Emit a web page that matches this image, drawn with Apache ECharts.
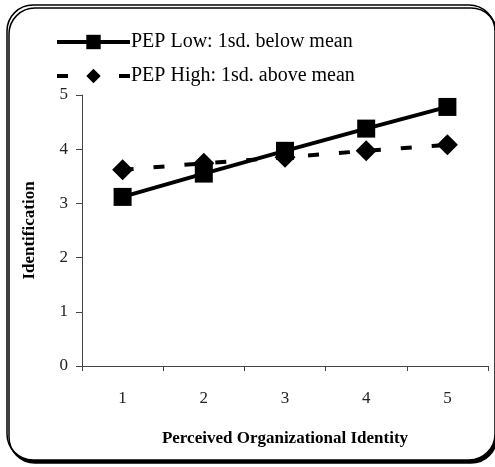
<!DOCTYPE html>
<html>
<head>
<meta charset="utf-8">
<script src="https://cdn.jsdelivr.net/npm/echarts@6/dist/echarts.min.js"></script>
<style>
  html, body { margin: 0; padding: 0; background: #fff; }
  #chart { width: 495px; height: 467px; }
</style>
</head>
<body>
<div id="chart"></div>
<script>
// categories on the x axis
const categories = ["1", "2", "3", "4", "5"];
// series values
const pepLow = [3.12, 3.55, 3.97, 4.38, 4.78];
const pepHigh = [3.62, 3.74, 3.85, 3.97, 4.08];
const seriesNames = ["PEP Low: 1sd. below mean", "PEP High: 1sd. above mean"];

const serif = "Liberation Serif";

const chart = echarts.init(document.getElementById("chart"));

const option = {
  animation: false,
  graphic: [
    {
      type: "rect",
      z: -10,
      shape: { x: 7, y: 5, width: 488, height: 455, r: 26 },
      style: {
        fill: "#fff",
        stroke: "#000",
        lineWidth: 1.5,
        shadowColor: "#000",
        shadowOffsetX: 2,
        shadowOffsetY: 3,
        shadowBlur: 0
      }
    }
  ],
  legend: {
    orient: "vertical",
    left: 50,
    top: 27,
    itemWidth: 73,
    itemHeight: 18,
    itemGap: 14,
    lineStyle: { width: 4 },
    textStyle: { fontFamily: serif, fontSize: 20, color: "#000", padding: [0, 0, 0, -4] },
    data: seriesNames
  },
  grid: { left: 82, top: 95, right: 7, bottom: 101 },
  xAxis: {
    type: "category",
    data: categories,
    boundaryGap: true,
    name: "Perceived Organizational Identity",
    nameLocation: "middle",
    nameGap: 64,
    nameTextStyle: { fontFamily: serif, fontSize: 17, fontWeight: "bold", color: "#000" },
    axisLine: { lineStyle: { color: "#444", width: 1 } },
    axisTick: { show: true, length: 5, lineStyle: { color: "#444" } },
    axisLabel: { fontFamily: serif, fontSize: 17, color: "#222", margin: 24 }
  },
  yAxis: {
    type: "value",
    min: 0,
    max: 5,
    interval: 1,
    name: "Identification",
    nameLocation: "middle",
    nameGap: 44,
    nameTextStyle: { fontFamily: serif, fontSize: 17, fontWeight: "bold", color: "#000" },
    splitLine: { show: false },
    axisLine: { show: true, lineStyle: { color: "#444", width: 1 } },
    axisTick: { show: true, length: 6, lineStyle: { color: "#444" } },
    axisLabel: { fontFamily: serif, fontSize: 17, color: "#222", margin: 14 }
  },
  series: [
    {
      name: seriesNames[0],
      type: "line",
      data: pepLow,
      symbol: "rect",
      symbolSize: 18,
      itemStyle: { color: "#000" },
      lineStyle: { color: "#000", width: 4 },
      z: 3
    },
    {
      name: seriesNames[1],
      type: "line",
      data: pepHigh,
      symbol: "diamond",
      symbolSize: 21,
      itemStyle: { color: "#000" },
      lineStyle: { color: "#000", width: 4, type: [11, 20] },
      z: 2
    }
  ]
};

chart.setOption(option);
</script>
</body>
</html>
